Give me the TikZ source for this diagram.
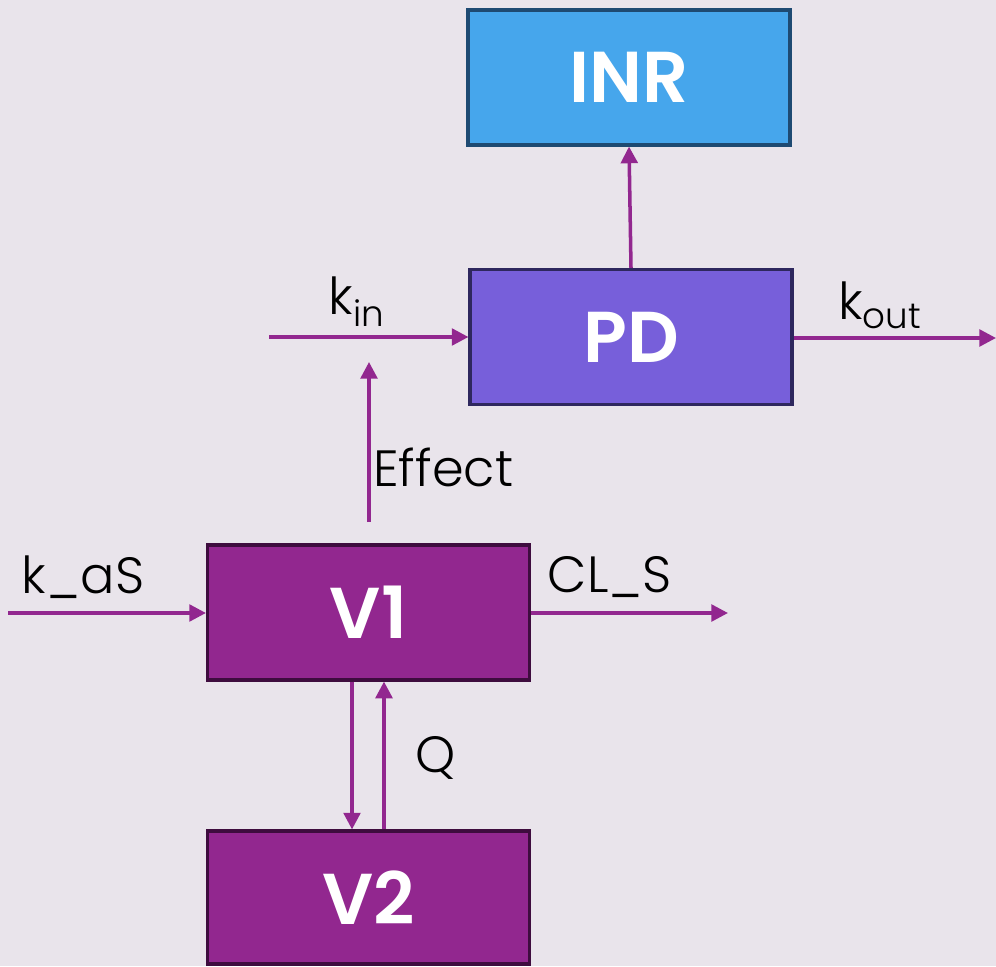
\documentclass[tikz,border=0pt]{standalone}
\usepackage{fontspec}
\setmainfont{Poppins Light}
\newfontfamily\boxfont{Poppins SemiBold}
\usepackage{xcolor}
\usetikzlibrary{arrows.meta}

\definecolor{bgcol}{HTML}{E9E4EB}
\definecolor{inrcol}{HTML}{46A6EC}
\definecolor{inredge}{HTML}{1E4A72}
\definecolor{pdcol}{HTML}{775FDA}
\definecolor{pdedge}{HTML}{2E275E}
\definecolor{vcol}{HTML}{92278F}
\definecolor{vedge}{HTML}{3E0C3E}
\definecolor{flowcol}{HTML}{92278F}

\tikzset{
  comp/.style={rectangle,line width=1.8pt,minimum width=6.44cm,minimum height=2.7cm,
    inner sep=0pt,text=white,font=\boxfont\fontsize{41}{50}\selectfont},
  flow/.style={->,draw=flowcol,line width=2pt},
  lab/.style={text=black,font=\fontsize{29}{36}\selectfont,inner sep=0pt}
}

\begin{document}
\begin{tikzpicture}[>={Triangle[length=9.5pt,width=9.5pt]},x=0.02cm,y=-0.02cm]
          \fill[bgcol] (0,0) rectangle (996,966);
          \useasboundingbox (0,0) rectangle (996,966);
          % compartments
          \node[comp,fill=inrcol,draw=inredge] (inr) at (629,77.5) {INR};
          \node[comp,fill=pdcol,draw=pdedge] (pd) at (631,337) {PD};
          \node[comp,fill=vcol,draw=vedge] (v1) at (368.5,612.5) {V1};
          \node[comp,fill=vcol,draw=vedge,minimum height=2.66cm] (v2) at (368.5,897.5) {V2};
          % free ends
          \coordinate (kinstart) at (269,337);
          \coordinate (koutend) at (996,338);
          \coordinate (effbot) at (369,522);
          \coordinate (efftop) at (369,362);
          \coordinate (kasstart) at (8,613);
          \coordinate (clsend) at (728,613);
          \coordinate (dn) at (352,750);
          \coordinate (up) at (384,750);
          % flows
          \draw[flow] (pd.north) -- (inr.south);
          \draw[flow] (kinstart) -- (pd.west |- kinstart);
          \draw[flow] (pd.east |- koutend) -- (koutend);
          \draw[flow] (effbot) -- (efftop);
          \draw[flow] (kasstart) -- (v1.west |- kasstart);
          \draw[flow] (v1.east |- clsend) -- (clsend);
          \draw[flow] (v1.south -| dn) -- (v2.north -| dn);
          \draw[flow] (v2.north -| up) -- (v1.south -| up);
          % labels
          \node[lab] (kin) at (357,302) {k\textsubscript{in}};
          \node[lab] (kout) at (880,305) {k\textsubscript{out}};
          \node[lab,anchor=west] (effect) at (373,467) {Effect};
          \node[lab] (kas) at (83,577) {k\_aS};
          \node[lab] (cls) at (610,577) {CL\_S};
          \node[lab] (q) at (436,758) {Q};
        \end{tikzpicture}
\end{document}
